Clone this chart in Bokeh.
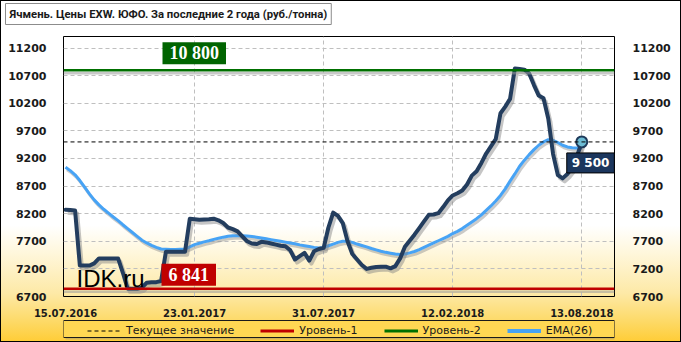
from bokeh.plotting import figure
from bokeh.layouts import column
from bokeh.models import (Range1d, LinearAxis, FixedTicker, Span, Label, Legend,
                          LegendItem, BoxAnnotation)
from bokeh.embed import file_html
from bokeh.resources import INLINE

# ---------------- data ----------------
tick_index = [0, 27, 54, 81, 108]
tick_dates = ["15.07.2016", "23.01.2017", "31.07.2017", "12.02.2018", "13.08.2018"]
y_ticks = [6700, 7200, 7700, 8200, 8700, 9200, 9700, 10200, 10700, 11200]

price = [8270, 8265, 8260, 7260, 7260, 7260, 7300, 7390, 7390, 7390,
         7390, 7390, 7130, 6840, 6840, 6840, 6860, 6950, 6960, 6960,
         6980, 7510, 7510, 7510, 7510, 7510, 8110, 8100, 8090, 8095,
         8100, 8110, 8080, 8030, 7950, 7920, 7880, 7790, 7700, 7660,
         7650, 7690, 7680, 7660, 7640, 7620, 7610, 7540, 7370, 7430,
         7490, 7350, 7520, 7560, 7580, 7950, 8220, 8160, 8030, 7700,
         7470, 7370, 7270, 7200, 7220, 7235, 7240, 7240, 7210, 7250,
         7390, 7600, 7710, 7820, 7940, 8060, 8180, 8185, 8210, 8320,
         8440, 8530, 8570, 8620, 8730, 8890, 8970, 9120, 9290, 9420,
         9550, 10020, 10140, 10280, 10830, 10820, 10810, 10740, 10530, 10340,
         10290, 9920, 9280, 8900, 8840, 8920, 9030, 9240, 9500]

ema26 = [9040, 8980, 8905, 8800, 8680, 8560, 8450, 8360, 8280, 8210,
         8140, 8075, 8000, 7930, 7860, 7790, 7720, 7670, 7625, 7590,
         7560, 7555, 7550, 7550, 7555, 7560, 7600, 7640, 7665, 7690,
         7710, 7735, 7755, 7775, 7790, 7800, 7800, 7800, 7795, 7785,
         7775, 7760, 7745, 7730, 7715, 7700, 7685, 7670, 7655, 7635,
         7620, 7605, 7590, 7580, 7590, 7620, 7650, 7680, 7700, 7700,
         7680, 7650, 7625, 7600, 7570, 7545, 7520, 7500, 7485, 7470,
         7460, 7470, 7490, 7515, 7550, 7590, 7630, 7670, 7710, 7750,
         7790, 7840, 7880, 7930, 7990, 8050, 8110, 8180, 8260, 8340,
         8430, 8530, 8650, 8790, 8920, 9060, 9170, 9270, 9360, 9440,
         9500, 9540, 9530, 9490, 9440, 9410, 9395, 9390, 9390]

level1 = 6841
level2 = 10800
current = 9500
level1_text = "6 841"
level2_text = "10 800"
current_text = "9 500"
title_text = "Ячмень. Цены EXW. ЮФО. За последние 2 года (руб./тонна)"
legend_labels = ["Текущее значение", "Уровень-1", "Уровень-2", "EMA(26)"]

weeks = list(range(len(price)))

# ---------------- styles ----------------
NAVY = "#233d5e"
EMA_C = "#47a3f5"
GREEN = "#007000"
RED = "#c00000"
AX_FONT = "DejaVu Sans"
W = 679


def strip(h):
    f = figure(width=W, height=h, output_backend="svg", toolbar_location=None, tools="",
               x_axis_type=None, y_axis_type=None,
               x_range=Range1d(0, 1), y_range=Range1d(0, 1),
               min_border_left=0, min_border_right=0, min_border_top=0, min_border_bottom=0,
               background_fill_color=None, border_fill_color=None, outline_line_color=None)
    f.xgrid.visible = False
    f.ygrid.visible = False
    return f


# ---------------- title strip ----------------
top = strip(27)
top.title.text = title_text
top.title.align = "left"
top.title.vertical_align = "bottom"
top.title.offset = -58
top.title.standoff = 0
top.title.text_font = "Roboto"
top.title.text_font_size = "11.3px"
top.title.text_font_style = "bold"
top.title.text_color = "#1a1a1a"
top.title.background_fill_color = "#ffffff"
top.title.border_line_color = "#8c8c8c"
top.title.padding = 4

# ---------------- main chart ----------------
p = figure(width=W, height=291, output_backend="svg", toolbar_location=None, tools="",
           title=None, x_range=Range1d(-0.42, 114.85), y_range=Range1d(6700, 11410),
           min_border_left=62, min_border_right=66, min_border_top=8, min_border_bottom=22,
           background_fill_color=None, border_fill_color=None,
           outline_line_color="#000000", outline_line_width=1)

p.yaxis.ticker = FixedTicker(ticks=y_ticks)
p.xaxis.ticker = FixedTicker(ticks=tick_index)
p.xaxis.major_label_overrides = {i: d for i, d in zip(tick_index, tick_dates)}
right_axis = LinearAxis(ticker=FixedTicker(ticks=y_ticks))
p.add_layout(right_axis, "right")
for ax in [p.xaxis[0], p.yaxis[0], right_axis]:
    ax.axis_line_color = None
    ax.major_tick_line_color = None
    ax.minor_tick_line_color = None
    ax.major_label_text_font = AX_FONT
    ax.major_label_text_font_style = "bold"
    ax.major_label_text_color = "#1a1a1a"
p.yaxis[0].major_label_text_font_size = "11px"
right_axis.major_label_text_font_size = "11px"
p.xaxis[0].major_label_text_font_size = "10px"
p.yaxis[0].major_label_standoff = 11
right_axis.major_label_standoff = 12
p.xaxis[0].major_label_standoff = 6

p.ygrid.ticker = FixedTicker(ticks=y_ticks)
p.xgrid.ticker = FixedTicker(ticks=tick_index[1:])
for g in [p.xgrid[0], p.ygrid[0]]:
    g.grid_line_color = "#bfbfbf"
    g.grid_line_dash = "4 3"
    g.grid_line_width = 1

for lv, col in [(level2, GREEN), (level1, RED)]:
    p.add_layout(Span(location=lv - 55, dimension="width", line_color="#9a9a9a",
                      line_alpha=0.55, line_width=2.5))
    p.add_layout(Span(location=lv, dimension="width", line_color=col, line_width=2.5))

p.add_layout(Span(location=current, dimension="width", line_color="#000000",
                  line_width=1, line_dash="4 3"))

p.line([w + 0.3 for w in weeks], [v - 45 for v in ema26], line_color="#8c8c8c",
       line_alpha=0.45, line_width=3)
p.line(weeks, ema26, line_color=EMA_C, line_width=3)

p.line([w + 0.45 for w in weeks], [v - 55 for v in price], line_color="#7f7f7f",
       line_alpha=0.45, line_width=4, line_join="round")
p.line(weeks, price, line_color=NAVY, line_width=4, line_join="round", line_cap="round")

p.scatter([weeks[-1]], [price[-1]], size=11, fill_color="#6dbcd4",
          line_color="#1f3a5a", line_width=2)


def boxed(x, y, text, bg, font, size, xu="screen", yu="data", xo=0, yo=0,
          anchor="bottom_left", pad=None, border=None, shadow=True):
    pad = pad or dict(left=7, right=7, top=1, bottom=1)
    if shadow:
        p.add_layout(Label(x=x, y=y, x_units=xu, y_units=yu, x_offset=xo + 3, y_offset=yo - 3,
                           text=text, text_alpha=0, text_font=font,
                           text_font_size=size, text_font_style="bold", anchor=anchor,
                           background_fill_color="#808080", background_fill_alpha=0.5,
                           padding=pad))
    p.add_layout(Label(x=x, y=y, x_units=xu, y_units=yu, x_offset=xo, y_offset=yo,
                       text=text, text_color="#ffffff", text_font=font,
                       text_font_size=size, text_font_style="bold", anchor=anchor,
                       background_fill_color=bg, padding=pad,
                       border_line_color=border))


boxed(99, level2, level2_text, "#006400", "Liberation Serif", "18px", yo=6)
boxed(98, level1, level1_text, RED, "Liberation Serif", "18px", yo=3)
boxed(weeks[-1], current, current_text, "#1b365d", "DejaVu Sans", "12px", xu="data",
      xo=-15, yo=-11, anchor="top_left", pad=dict(left=5, right=5, top=3, bottom=3),
      border="#000000", shadow=False)

p.add_layout(Label(x=13, y=18, x_units="screen", y_units="screen", text="IDK.ru",
                   text_font="Liberation Sans", text_font_size="24px",
                   text_color="#000000", text_baseline="alphabetic"))

# ---------------- legend strip (frame aligned with the chart frame) ----------------
# the legend renderers carry the series values, which fall outside this strip's 0..1
# range, so only their legend swatches are visible
bot = strip(22)
r_dash = bot.line(weeks[:2], [current, current], line_color="#000000", line_width=1,
                  line_dash="4 3")
r_red = bot.line(weeks[:2], [level1, level1], line_color=RED, line_width=3)
r_green = bot.line(weeks[:2], [level2, level2], line_color=GREEN, line_width=3)
r_ema = bot.line(weeks[:2], ema26[:2], line_color=EMA_C, line_width=4)
bot.add_layout(BoxAnnotation(left=2, right=553, bottom=2, top=19,
                             left_units="screen", right_units="screen",
                             top_units="screen", bottom_units="screen",
                             fill_color="#7f7f7f", fill_alpha=0.35,
                             line_color=None, level="underlay"))
bot.add_layout(BoxAnnotation(left=0, right=551, bottom=4, top=21,
                             left_units="screen", right_units="screen",
                             top_units="screen", bottom_units="screen",
                             fill_color="#ffd753", fill_alpha=1.0,
                             line_color="#1a1a1a", line_alpha=1.0, line_width=1,
                             level="underlay"))
legend = Legend(items=[LegendItem(label=legend_labels[0], renderers=[r_dash]),
                       LegendItem(label=legend_labels[1], renderers=[r_red]),
                       LegendItem(label=legend_labels[2], renderers=[r_green]),
                       LegendItem(label=legend_labels[3], renderers=[r_ema])],
                location=(24, 4), orientation="horizontal", padding=2, spacing=26,
                glyph_width=34, glyph_height=13, label_height=13,
                label_standoff=5, label_text_font=AX_FONT, label_text_font_size="11px",
                label_text_color="#1a1a1a", border_line_color=None,
                background_fill_alpha=0)
bot.add_layout(legend)

layout = column(top, p, bot, spacing=0,
                styles={"background": "linear-gradient(180deg, #ffffff 0%, #ffffff 66%, "
                                      "#fff7dc 74%, #fde9a6 86%, #fdd861 95%, #ffcd38 100%)",
                        "border": "1px solid #000000"})

open("out.html", "w").write(file_html(layout, INLINE))
